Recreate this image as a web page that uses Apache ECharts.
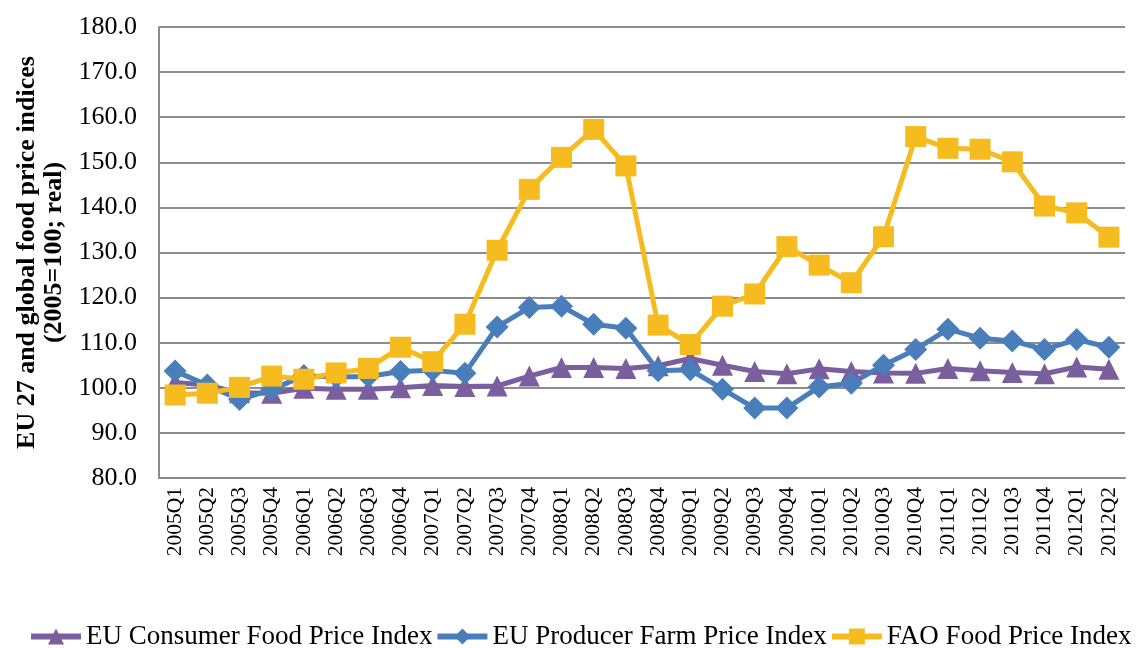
<!DOCTYPE html>
<html>
<head>
<meta charset="utf-8">
<script src="https://cdn.jsdelivr.net/npm/echarts@6/dist/echarts.min.js"></script>
<style>
  html, body { margin: 0; padding: 0; background: #fff; }
  #chart { width: 1138px; height: 648px; }
</style>
</head>
<body>
<div id="chart"></div>
<script>
    // 季度
    var quarters = ['2005Q1','2005Q2','2005Q3','2005Q4','2006Q1','2006Q2','2006Q3','2006Q4',
        '2007Q1','2007Q2','2007Q3','2007Q4','2008Q1','2008Q2','2008Q3','2008Q4',
        '2009Q1','2009Q2','2009Q3','2009Q4','2010Q1','2010Q2','2010Q3','2010Q4',
        '2011Q1','2011Q2','2011Q3','2011Q4','2012Q1','2012Q2'];

    var consumerIndex = [101.2, 100.6, 98.9, 98.8, 99.9, 99.7, 99.7, 100.0,
        100.5, 100.3, 100.4, 102.6, 104.5, 104.5, 104.3, 104.9,
        106.5, 105.0, 103.6, 103.1, 104.2, 103.6, 103.3, 103.2,
        104.3, 103.8, 103.4, 103.1, 104.6, 104.1];

    var producerIndex = [103.7, 100.6, 97.4, 99.6, 102.7, 102.4, 102.5, 103.6,
        103.9, 103.2, 113.5, 117.8, 118.1, 114.1, 113.2, 103.8,
        104.0, 99.7, 95.5, 95.5, 100.2, 101.0, 105.0, 108.5,
        113.0, 111.0, 110.4, 108.5, 110.7, 109.0];

    var faoIndex = [98.4, 98.8, 100.1, 102.6, 101.9, 103.3, 104.3, 109.0,
        105.8, 114.1, 130.5, 144.0, 151.1, 157.3, 149.2, 113.9,
        109.6, 118.1, 120.8, 131.3, 127.2, 123.3, 133.5, 155.7,
        153.1, 152.9, 150.1, 140.3, 138.8, 133.4];

    var yTicks = { min: 80, max: 180, step: 10 };

    var chart = echarts.init(document.getElementById('chart'));
    var serif = '"Liberation Serif", "Times New Roman", serif';

    function makeSeries(name, data, color, symbol, size) {
        return {
            name: name,
            type: 'line',
            data: data,
            symbol: symbol,
            symbolSize: size,
            lineStyle: { color: color, width: 5 },
            itemStyle: { color: color },
            emphasis: { disabled: true }
        };
    }

    var option = {
        animation: false,
        textStyle: { fontFamily: serif },
        grid: { left: 159, right: 13, top: 27, bottom: 170 },
        legend: {
            bottom: -2,
            left: 28,
            width: 1300,
            padding: 0,
            itemWidth: 50,
            itemHeight: 20,
            itemGap: 2,
            lineStyle: { width: 6 },
            textStyle: { fontFamily: serif, fontSize: 27, color: '#000' },
            data: ['EU Consumer Food Price Index', 'EU Producer Farm Price Index', 'FAO Food Price Index']
        },
        xAxis: {
            type: 'category',
            data: quarters,
            boundaryGap: true,
            axisLine: { lineStyle: { color: '#8c8c8c', width: 2 } },
            axisTick: { show: false },
            axisLabel: { rotate: 90, interval: 0, color: '#000', fontSize: 21.5, fontFamily: serif, margin: 9 }
        },
        yAxis: {
            type: 'value',
            min: yTicks.min,
            max: yTicks.max,
            interval: yTicks.step,
            name: 'EU 27 and global food price indices\n(2005=100; real)',
            nameLocation: 'middle',
            nameGap: 88,
            nameTextStyle: { fontFamily: serif, fontSize: 26, fontWeight: 'bold', color: '#000', lineHeight: 27 },
            axisLine: { show: true, lineStyle: { color: '#8c8c8c', width: 2 } },
            axisTick: { show: false },
            splitLine: { lineStyle: { color: '#8c8c8c', width: 2 } },
            axisLabel: {
                color: '#000', fontSize: 26, fontFamily: serif, margin: 22,
                formatter: function (v) { return v.toFixed(1); }
            }
        },
        series: [
            makeSeries('EU Consumer Food Price Index', consumerIndex, '#7B5E9E', 'triangle', 21),
            makeSeries('EU Producer Farm Price Index', producerIndex, '#4A7EBB', 'diamond', 23),
            makeSeries('FAO Food Price Index', faoIndex, '#F6BC1F', 'rect', 21)
        ]
    };
    chart.setOption(option);
</script>
</body>
</html>
